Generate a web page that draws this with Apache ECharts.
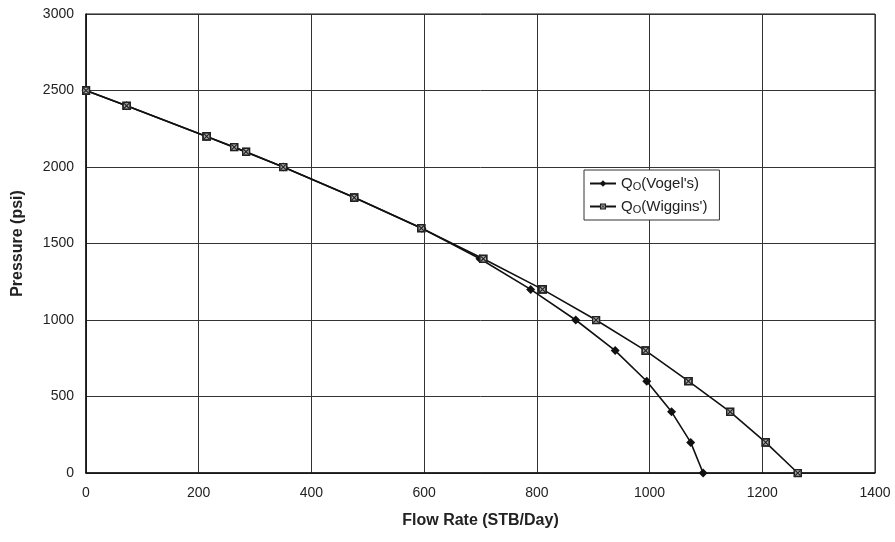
<!DOCTYPE html>
<html><head><meta charset="utf-8">
<script src="https://cdn.jsdelivr.net/npm/echarts@6/dist/echarts.min.js"></script>
<style>html,body{margin:0;padding:0;background:#fff}#c{width:895px;height:542px}</style>
</head><body><div id="c"></div>
<script>
var vogelQ = [0, 72, 214, 350, 476, 596, 699, 789, 869, 939, 995, 1039, 1073, 1095];
var vogelP = [2500, 2400, 2200, 2000, 1800, 1600, 1400, 1200, 1000, 800, 600, 400, 200, 0];
var wigginsQ = [0, 72, 214, 263, 284, 350, 476, 595, 705, 810, 905, 993, 1069, 1143, 1206, 1263];
var wigginsP = [2500, 2400, 2200, 2130, 2100, 2000, 1800, 1600, 1400, 1200, 1000, 800, 600, 400, 200, 0];
var xTicks = [0, 200, 400, 600, 800, 1000, 1200, 1400];
var yTicks = [0, 500, 1000, 1500, 2000, 2500, 3000];

function pairs(a, b) { return a.map(function (v, i) { return [v, b[i]]; }); }
var sq = 'image://data:image/svg+xml;charset=utf-8,' + encodeURIComponent(
  '<svg xmlns="http://www.w3.org/2000/svg" width="20" height="20" viewBox="0 0 20 20">' +
  '<rect x="0" y="0" width="20" height="20" fill="#222"/>' +
  '<rect x="4" y="4" width="12" height="12" fill="#aaa"/>' +
  '<path d="M4 4L16 16M16 4L4 16" stroke="#222" stroke-width="2.5"/></svg>');

var chart = echarts.init(document.getElementById('c'));
chart.setOption({
  animation: false,
  backgroundColor: '#fff',
  grid: { left: 86, right: 20, top: 14, bottom: 69, show: true, borderColor: '#111', borderWidth: 1 },
  xAxis: {
    type: 'value', min: xTicks[0], max: xTicks[xTicks.length - 1], interval: 200,
    name: 'Flow Rate (STB/Day)', nameLocation: 'middle', nameGap: 40,
    nameTextStyle: { fontFamily: 'Liberation Sans', fontWeight: 'bold', fontSize: 16, color: '#222' },
    axisLine: { show: true, lineStyle: { color: '#111', width: 1.5 } },
    axisTick: { show: false },
    axisLabel: { fontFamily: 'Liberation Sans', fontSize: 14, color: '#222', margin: 13,
      formatter: function (v) { return String(v); } },
    splitLine: { show: true, lineStyle: { color: '#333', width: 1 } }
  },
  yAxis: {
    type: 'value', min: yTicks[0], max: yTicks[yTicks.length - 1], interval: 500,
    name: 'Pressure (psi)', nameLocation: 'middle', nameGap: 60, nameRotate: 90,
    nameTextStyle: { fontFamily: 'Liberation Sans', fontWeight: 'bold', fontSize: 16, color: '#222' },
    axisLine: { show: true, lineStyle: { color: '#111', width: 1.5 } },
    axisTick: { show: false },
    axisLabel: { fontFamily: 'Liberation Sans', fontSize: 14, color: '#222', margin: 12,
      formatter: function (v) { return String(v); } },
    splitLine: { show: true, lineStyle: { color: '#333', width: 1 } }
  },
  legend: {
    orient: 'vertical', left: 584, top: 170, padding: [6, 12, 5, 5], itemGap: 7,
    itemWidth: 26, itemHeight: 8,
    backgroundColor: '#fff', borderColor: '#333', borderWidth: 1, borderRadius: 0,
    data: ["Vogel's", "Wiggins'"],
    formatter: function (n) { return '{q|Q}{s|O}{q|(' + n + ')}'; },
    textStyle: {
      rich: {
        q: { fontFamily: 'Liberation Sans', fontSize: 15, color: '#222' },
        s: { fontFamily: 'Liberation Sans', fontSize: 11, color: '#222', verticalAlign: 'bottom', padding: [6, 0, 0, 0] }
      }
    }
  },
  series: [
    {
      name: "Vogel's", type: 'line', data: pairs(vogelQ, vogelP),
      symbol: 'diamond', symbolSize: 9, z: 2,
      lineStyle: { color: '#111', width: 1.6 }, itemStyle: { color: '#111' }
    },
    {
      name: "Wiggins'", type: 'line', data: pairs(wigginsQ, wigginsP),
      symbol: sq, symbolSize: 9, z: 3,
      lineStyle: { color: '#111', width: 1.6 }, itemStyle: { color: '#333' }
    }
  ]
});
</script></body></html>
